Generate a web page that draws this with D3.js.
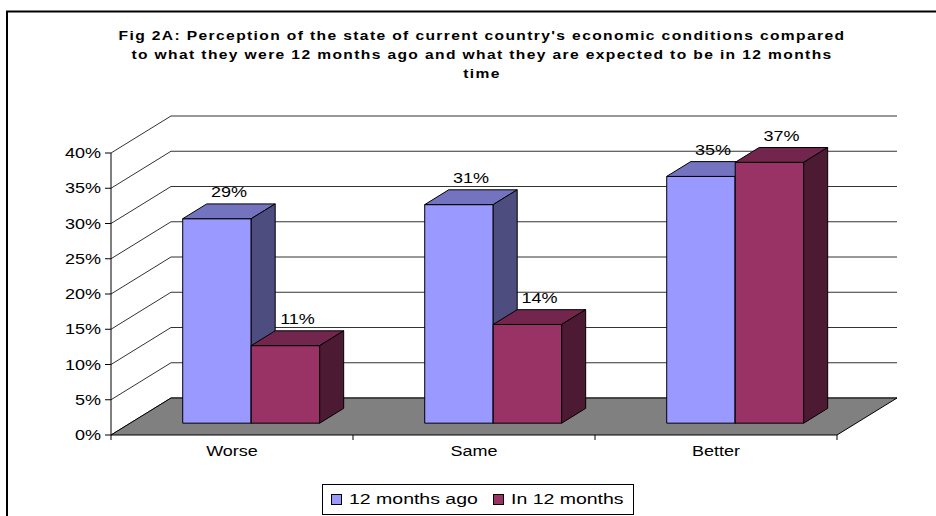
<!DOCTYPE html>
<html>
<head>
<meta charset="utf-8">
<script src="https://cdn.jsdelivr.net/npm/d3@7"></script>
<style>
    body { margin: 0; background: #fff; }
    svg { display: block; font-family: "Liberation Sans", Arial, sans-serif; }
</style>
</head>
<body>
<div id="chart"></div>
<script>
// chart data
const categories = ["Worse", "Same", "Better"];
const seriesNames = ["12 months ago", "In 12 months"];
const monthsAgo = [0.29, 0.31, 0.35];
const inMonths = [0.11, 0.14, 0.37];
const yTicks = [0, 0.05, 0.10, 0.15, 0.20, 0.25, 0.30, 0.35, 0.40];
const titleLines = [
    "Fig 2A: Perception of the state of current country's economic conditions compared",
    "to what they were 12 months ago and what they are expected to be in 12 months",
    "time"
];

const width = 936, height = 516;

// colours: front, top, side
const palette = [
    {front: "#9999ff", top: "#7373c0", side: "#4d4d80"},
    {front: "#993366", top: "#73264d", side: "#4d1a33"}
];

const svg = d3.select("#chart").append("svg")
    .attr("width", width)
    .attr("height", height);

// outer chart border (cut off at right and bottom)
svg.append("path")
    .attr("d", "M7,516 V11.5 H936")
    .attr("fill", "none")
    .attr("stroke", "#000")
    .attr("stroke-width", 2);

// scales on the front plane
const left = 111, right = 837;
const x0 = d3.scaleBand()
    .domain(categories)
    .range([left, right])
    .paddingInner(0.434)
    .paddingOuter(0.217);
const x1 = d3.scaleBand()
    .domain(seriesNames)
    .range([0, x0.bandwidth()]);
const y = d3.scaleLinear()
    .domain([0, 0.4])
    .range([435, 153]);

// depth projection
const DX = 60, DY = 37;
const proj = (px, v, z) => [px + z * DX, y(v) - z * DY];
const zFront = 0.32, zBack = 0.72;

// helper for text that is stretched horizontally like the original
function addText(g, px, py, str, opts) {
    const sx = opts.sx || 1.2;
    return g.append("text")
        .attr("transform", "translate(" + px + "," + py + ") scale(" + sx + ",1)")
        .attr("text-anchor", opts.anchor || "middle")
        .attr("font-size", opts.size || 15)
        .attr("font-weight", opts.weight || "normal")
        .attr("letter-spacing", opts.spacing || 0)
        .attr("fill", "#000")
        .text(str);
}

// title
titleLines.forEach((t, i) => {
    addText(svg, 482, 40 + i * 19, t, {size: 13, weight: "bold", sx: 1.2, spacing: 1.15});
});

const plot = svg.append("g");

// back wall gridlines with diagonal lead-ins from the value axis
yTicks.forEach(v => {
    const a = proj(left, v, 0), b = proj(left, v, 1), c = proj(right, v, 1);
    plot.append("path")
        .attr("d", "M" + a + "L" + b + "L" + c)
        .attr("fill", "none")
        .attr("stroke", "#333")
        .attr("stroke-width", 1);
});

// floor
const floorPts = [proj(left, 0, 0), proj(right, 0, 0), proj(right, 0, 1), proj(left, 0, 1)];
plot.append("path")
    .attr("d", "M" + floorPts.join("L") + "Z")
    .attr("fill", "#808080")
    .attr("stroke", "#000")
    .attr("stroke-width", 1);

// value axis line and ticks
plot.append("line")
    .attr("x1", left).attr("x2", left)
    .attr("y1", y(0.4)).attr("y2", y(0))
    .attr("stroke", "#000");

yTicks.forEach(v => {
    plot.append("line")
        .attr("x1", left - 6).attr("x2", left)
        .attr("y1", y(v)).attr("y2", y(v))
        .attr("stroke", "#000");
    addText(plot, 101, y(v) + 5, d3.format(".0%")(v), {anchor: "end"});
});

// category ticks along front edge
const bounds = categories.map(c => x0(c) - x0.step() * x0.paddingInner() / 2).concat([right]);
bounds.forEach(bx => {
    plot.append("line")
        .attr("x1", bx).attr("x2", bx)
        .attr("y1", y(0)).attr("y2", y(0) + 5)
        .attr("stroke", "#000");
});

categories.forEach(c => {
    addText(plot, x0(c) + x0.bandwidth() / 2, 456, c, {});
});

// bars
const bw = x1.bandwidth();
const fmt = d3.format(".0%");

categories.forEach((c, i) => {
    [monthsAgo[i], inMonths[i]].forEach((v, s) => {
        const bx = x0(c) + x1(seriesNames[s]);
        const col = palette[s];
        const fl = proj(bx, 0, zFront), ft = proj(bx, v, zFront);
        const frt = proj(bx + bw, v, zFront), frb = proj(bx + bw, 0, zFront);
        const bl = proj(bx, v, zBack), brt = proj(bx + bw, v, zBack), brb = proj(bx + bw, 0, zBack);
        const g = plot.append("g");

        // front face
        g.append("path")
            .attr("d", "M" + [fl, ft, frt, frb].join("L") + "Z")
            .attr("fill", col.front)
            .attr("stroke", "#000");
        // top face
        g.append("path")
            .attr("d", "M" + [ft, bl, brt, frt].join("L") + "Z")
            .attr("fill", col.top)
            .attr("stroke", "#000");
        // side face
        g.append("path")
            .attr("d", "M" + [frb, frt, brt, brb].join("L") + "Z")
            .attr("fill", col.side)
            .attr("stroke", "#000");

        // data label above top face
        addText(g, (ft[0] + brt[0]) / 2, bl[1] - 7, fmt(v), {});
    });
});

// legend
const legend = svg.append("g");
legend.append("rect")
    .attr("x", 322.5).attr("y", 484.5)
    .attr("width", 311).attr("height", 30)
    .attr("fill", "#fff")
    .attr("stroke", "#000");

const legX = [331, 493];
seriesNames.forEach((name, s) => {
    legend.append("rect")
        .attr("x", legX[s] + 0.5).attr("y", 494.5)
        .attr("width", 10).attr("height", 10)
        .attr("fill", palette[s].front)
        .attr("stroke", "#000");
    addText(legend, legX[s] + 18, 504, name, {anchor: "start", sx: 1.3});
});
</script>
</body>
</html>
